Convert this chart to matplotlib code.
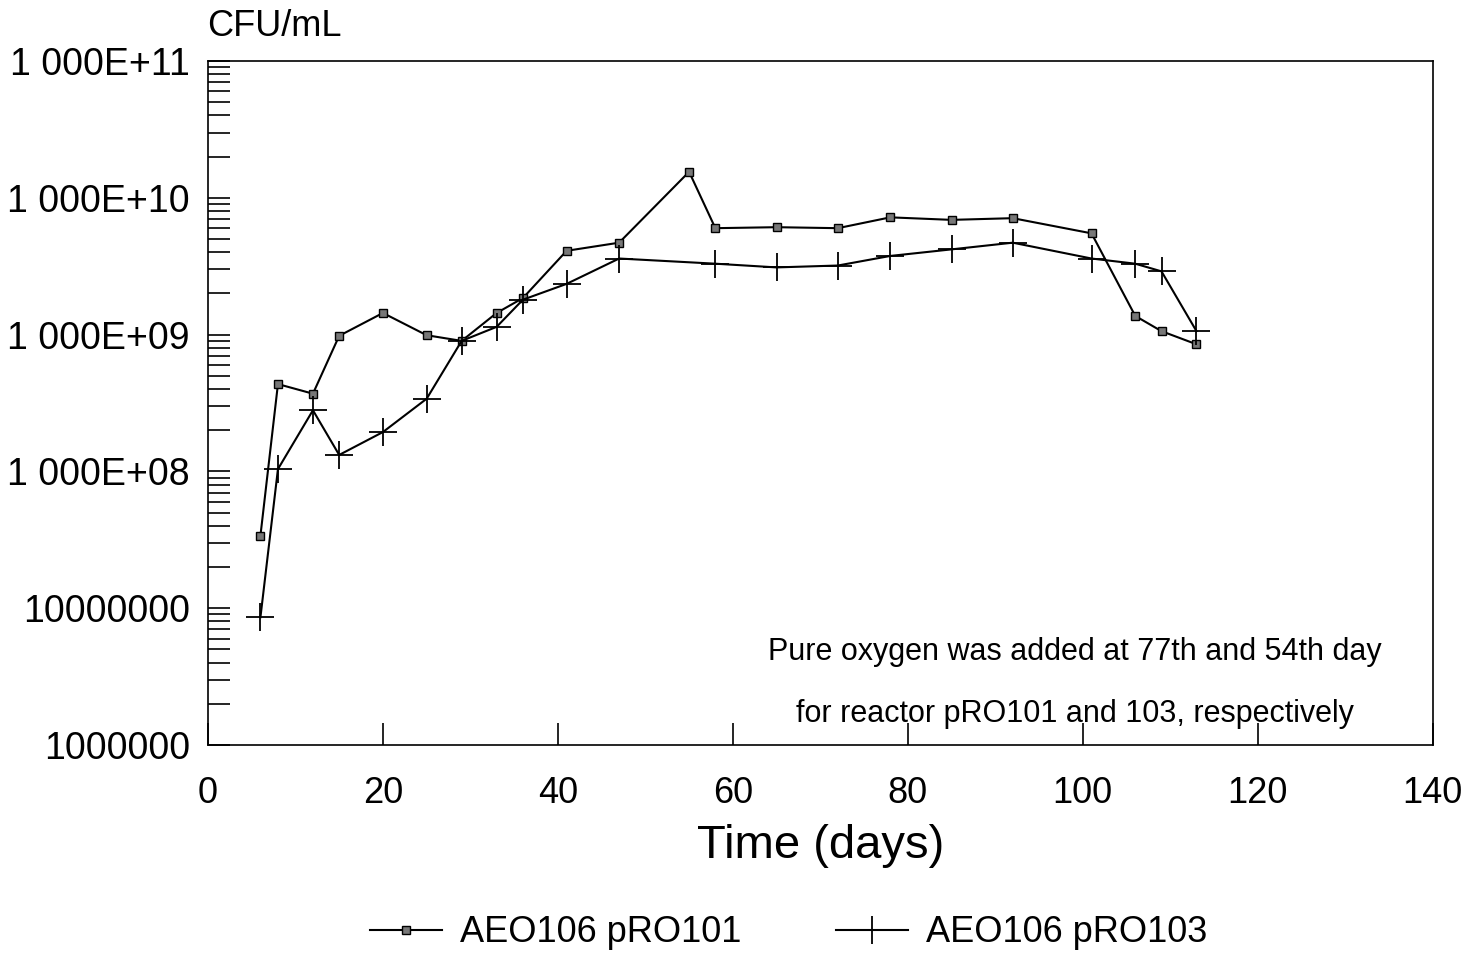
import matplotlib
matplotlib.use("Agg")
import matplotlib.pyplot as plt
from matplotlib.ticker import FixedLocator, LogLocator, NullFormatter
import numpy as np

plt.rcParams['font.family'] = ['Liberation Sans', 'DejaVu Sans']

days_101 = [6, 8, 12, 15, 20, 25, 29, 33, 36, 41, 47, 55, 58, 65, 72, 78, 85, 92, 101, 106, 109, 113]
cfu_101 = [3.4e7, 4.35e8, 3.7e8, 9.8e8, 1.44e9, 9.9e8, 9.0e8, 1.44e9, 1.85e9, 4.1e9, 4.7e9,
           1.55e10, 6.0e9, 6.1e9, 6.0e9, 7.2e9, 6.9e9, 7.1e9, 5.5e9, 1.37e9, 1.06e9, 8.5e8]

days_103 = [6, 8, 12, 15, 20, 25, 29, 33, 36, 41, 47, 58, 65, 72, 78, 85, 92, 101, 106, 109, 113]
cfu_103 = [8.6e6, 1.04e8, 2.8e8, 1.32e8, 1.94e8, 3.4e8, 9.0e8, 1.14e9, 1.8e9, 2.35e9, 3.6e9,
           3.3e9, 3.1e9, 3.2e9, 3.76e9, 4.2e9, 4.7e9, 3.6e9, 3.3e9, 2.9e9, 1.06e9]

y_ticks = [1e6, 1e7, 1e8, 1e9, 1e10, 1e11]
y_labels = ["1000000", "10000000", "1 000E+08", "1 000E+09", "1 000E+10", "1 000E+11"]
x_ticks = [0, 20, 40, 60, 80, 100, 120, 140]

fig = plt.figure(figsize=(14.77, 9.58), dpi=100)
ax = fig.add_axes([0.1408, 0.2223, 0.8292, 0.714])

ax.plot(days_101, cfu_101, color='black', lw=1.5, marker='s', markersize=6,
        markerfacecolor='#777777', markeredgecolor='black', markeredgewidth=1.0,
        label='AEO106 pRO101')
ax.plot(days_103, cfu_103, color='black', lw=1.5, marker='+', markersize=20,
        markeredgewidth=1.3, label='AEO106 pRO103')

ax.set_yscale('log')
ax.set_xlim(0, 140)
ax.set_ylim(1e6, 1e11)
ax.yaxis.set_major_locator(FixedLocator(y_ticks))
ax.set_yticklabels(y_labels, fontsize=27)
ax.yaxis.set_minor_locator(LogLocator(base=10, subs=np.arange(2, 10)))
ax.yaxis.set_minor_formatter(NullFormatter())
ax.tick_params(axis='y', which='both', direction='in', length=16, width=1.2, pad=13)
ax.set_xticks(x_ticks)
ax.set_xticklabels([str(v) for v in x_ticks], fontsize=26)
ax.tick_params(axis='x', which='major', direction='in', length=16, width=1.2, pad=22)
for s in ax.spines.values():
    s.set_linewidth(1.2)

ax.set_xlabel('Time (days)', fontsize=34, labelpad=10)
fig.text(207 / 1477, 1 - 27 / 958, 'CFU/mL', fontsize=26, ha='left', va='center')

ax.text(0.7075, 0.136, 'Pure oxygen was added at 77th and 54th day', transform=ax.transAxes,
        fontsize=22, ha='center', va='center')
ax.text(0.7075, 0.046, 'for reactor pRO101 and 103, respectively', transform=ax.transAxes,
        fontsize=22, ha='center', va='center')

fig.legend(loc='center', bbox_to_anchor=(0.534, 1 - 933 / 958), ncol=2, frameon=False,
           fontsize=26, handlelength=2.0, handletextpad=0.5, columnspacing=2.6,
           markerscale=1.0)

fig.savefig('out.png', dpi=100)
